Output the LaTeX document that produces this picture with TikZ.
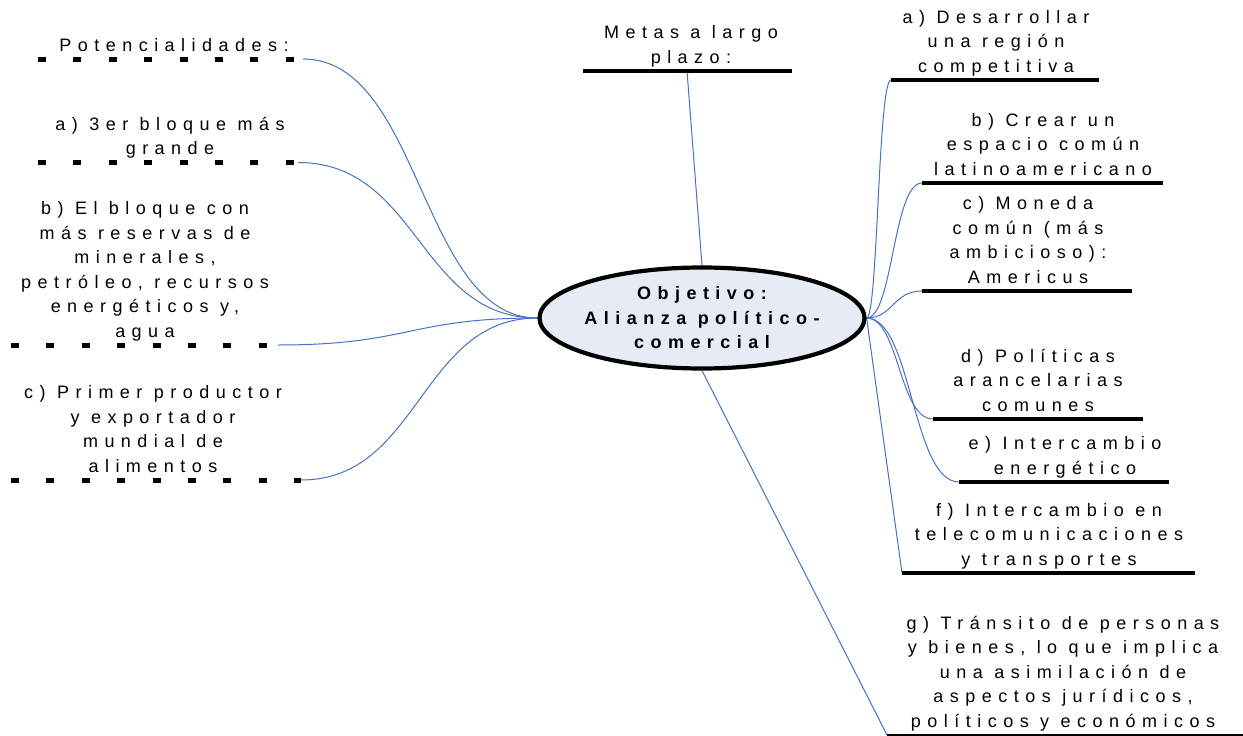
\documentclass[tikz,border=0pt]{standalone}
\usepackage{fontspec}
\setmainfont{Liberation Sans}[LetterSpace=36]
\usetikzlibrary{shapes.geometric}
\definecolor{connblue}{RGB}{68,114,196}
\definecolor{ellfill}{RGB}{230,235,246}
\pgfdeclarelayer{bg}
\pgfsetlayers{bg,main}
\begin{document}
\begin{tikzpicture}[x=1pt,y=-1pt,
  lbl/.style={anchor=south,inner sep=0pt,align=center,font=\fontsize{18}{24.5}\selectfont},
  dotline/.style={line width=5pt,dash pattern=on 8pt off 27.4pt},
  solidline/.style={line width=4pt},
  conn/.style={draw=connblue,line width=1pt},
  central/.style={ellipse,draw=black,line width=4.2pt,fill=ellfill,minimum width=325pt,minimum height=101pt,inner sep=0pt},
  centraltext/.style={inner sep=0pt,align=center,font=\fontsize{18}{24.5}\selectfont\bfseries}]
\useasboundingbox (0,0) rectangle (1243,736);

% central node
\node[central] (obj) at (702,318) {};
\node[centraltext] (objt) at (obj.center) {Objetivo:\\Alianza político-\\comercial};

% left side
\node[lbl] (pot) at (174,59) {Potencialidades:\strut};
\coordinate (potL) at (38,59); \coordinate (potR) at (303,59);
\draw[dotline] (potL) -- (potR);

\node[lbl] (pa) at (170,162.5) {a) 3er bloque más\\grande\strut};
\coordinate (paL) at (38,162.5); \coordinate (paR) at (298,162.5);
\draw[dotline] (paL) -- (paR);

\node[lbl] (pb) at (145,345) {b) El bloque con\\más reservas de\\minerales,\\petróleo, recursos\\energéticos y,\\agua\strut};
\coordinate (pbL) at (11,345); \coordinate (pbR) at (278,345);
\draw[dotline] (pbL) -- (pbR);

\node[lbl] (pc) at (153,480) {c) Primer productor\\y exportador\\mundial de\\alimentos\strut};
\coordinate (pcL) at (11,480); \coordinate (pcR) at (301,480);
\draw[dotline] (pcL) -- (pcR);

% top
\node[lbl] (metas) at (691,71) {Metas a largo\\plazo:\strut};
\coordinate (metasL) at (583,71); \coordinate (metasR) at (792,71); \coordinate (metasC) at (687,71);
\draw[line width=3.5pt] (metasL) -- (metasR);

% right side
\node[lbl] (ga) at (996,80) {a) Desarrollar\\una región\\competitiva\strut};
\coordinate (gaL) at (891,80); \coordinate (gaR) at (1099,80);
\draw[solidline] (gaL) -- (gaR);

\node[lbl] (gb) at (1043,183) {b) Crear un\\espacio común\\latinoamericano\strut};
\coordinate (gbL) at (922,183); \coordinate (gbR) at (1163,183);
\draw[solidline] (gbL) -- (gbR);

\node[lbl] (gc) at (1028,291) {c) Moneda\\común (más\\ambicioso):\\Americus\strut};
\coordinate (gcL) at (922,291); \coordinate (gcR) at (1132,291);
\draw[solidline] (gcL) -- (gcR);

\node[lbl] (gd) at (1038,419) {d) Políticas\\arancelarias\\comunes\strut};
\coordinate (gdL) at (933,419); \coordinate (gdR) at (1143,419);
\draw[solidline] (gdL) -- (gdR);

\node[lbl] (ge) at (1065,482) {e) Intercambio\\energético\strut};
\coordinate (geL) at (959,482); \coordinate (geR) at (1169,482);
\draw[solidline] (geL) -- (geR);

\node[lbl] (gf) at (1049,573) {f) Intercambio en\\telecomunicaciones\\y transportes\strut};
\coordinate (gfL) at (902,573); \coordinate (gfR) at (1195,573);
\draw[solidline] (gfL) -- (gfR);

\node[lbl] (gg) at (1063,735) {g) Tránsito de personas\\y bienes, lo que implica\\una asimilación de\\aspectos jurídicos,\\políticos y económicos\strut};
\coordinate (ggL) at (887,735); \coordinate (ggR) at (1243,735);
\draw[line width=1.5pt] (ggL) -- (ggR);

% connectors
\begin{pgfonlayer}{bg}
\draw[conn] (potR) .. controls (421,59) and (421,318) .. (obj.west);
\draw[conn] (paR) .. controls (419,162.5) and (419,318) .. (obj.west);
\draw[conn] (pbR) .. controls (409,345) and (409,318) .. (obj.west);
\draw[conn] (pcR) .. controls (420,480) and (420,318) .. (obj.west);
\draw[conn] (obj.north) -- (metasC);
\draw[conn] (obj.east) .. controls (878,318) and (878,80) .. (gaL);
\draw[conn] (obj.east) .. controls (893,318) and (893,183) .. (gbL);
\draw[conn] (obj.east) .. controls (893,318) and (893,291) .. (gcL);
\draw[conn] (obj.east) .. controls (899,318) and (899,419) .. (gdL);
\draw[conn] (obj.east) .. controls (912,318) and (912,482) .. (geL);
\draw[conn] (obj.east) -- (gfL);
\draw[conn] (obj.south) -- (ggL);
\end{pgfonlayer}
\end{tikzpicture}
\end{document}
